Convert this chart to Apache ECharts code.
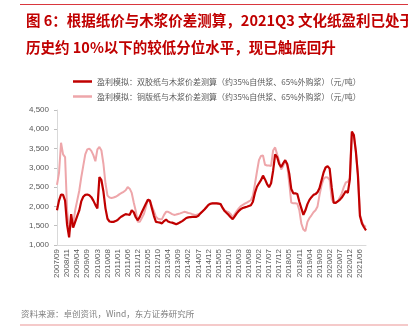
<!DOCTYPE html>
<html>
<head>
<meta charset="utf-8">
<script src="https://cdn.jsdelivr.net/npm/echarts@6/dist/echarts.min.js"></script>
<style>
  html, body { margin: 0; padding: 0; background: #fff; }
  #chart { width: 408px; height: 335px; }
</style>
</head>
<body>
<div id="chart"></div>
<script>
// Tick labels along the time axis (one label every five samples)
var xTicks = ['2007/09','2008/11','2009/04','2009/09','2010/03','2010/08','2011/01','2011/06','2011/12',
  '2012/05','2012/10','2013/04','2013/09','2014/02','2014/07','2014/12','2015/05','2015/10','2016/03',
  '2016/08','2017/02','2017/07','2017/12','2018/05','2018/11','2019/04','2019/09','2020/02','2020/07',
  '2020/12','2021/06'];
var samplesPerTick = 5;

var seriesNames = [
  '盈利模拟：双胶纸与木浆价差测算（约35%自供浆、65%外购浆）（元/吨）',
  '盈利模拟：铜版纸与木浆价差测算（约35%自供浆、65%外购浆）（元/吨）'
];

// Offset paper vs. pulp spread (元/吨)
var offsetSpread = [
  1900,2150,2310,2300,2150,1520,1200,1800,1450,1600,
  1750,1890,2130,2250,2300,2310,2290,2240,2150,2040,
  1950,2760,2680,2380,1950,1680,1610,1600,1600,1620,
  1650,1700,1740,1770,1800,1790,1780,1900,1850,1720,
  1640,1730,1850,1960,2070,2170,2150,1950,1750,1600,
  1590,1580,1560,1620,1660,1610,1590,1580,1560,1540,
  1560,1590,1620,1660,1700,1715,1725,1730,1730,1730,
  1760,1820,1870,1920,1980,2040,2070,2080,2080,2080,
  2075,2060,1960,1880,1830,1780,1720,1670,1740,1820,
  1880,1930,1960,1975,1990,2010,2030,2120,2350,2510,
  2600,2680,2800,2700,2580,2500,2600,2920,3350,3280,
  3100,3020,3120,3200,3100,2850,2450,2340,2340,2320,
  2120,1950,1780,1900,2060,2170,2240,2300,2320,2370,
  2480,2680,2880,3010,3040,2980,2500,2100,2090,2130,
  2170,2230,2310,2400,2350,2700,3940,3850,3420,2800,
  1750,1560,1460,1380
];

// Coated paper vs. pulp spread (元/吨)
var coatedSpread = [
  2560,2870,3650,3350,3280,1900,1350,1500,1550,1900,
  2150,2400,2750,3050,3350,3480,3500,3440,3330,3170,
  3480,3540,3450,3100,2600,2280,2230,2220,2230,2250,
  2280,2320,2350,2380,2420,2500,2460,2350,2100,1880,
  1600,1600,1700,1800,1980,2180,2150,2000,1880,1730,
  1680,1670,1670,1780,1860,1860,1830,1800,1780,1790,
  1805,1820,1840,1860,1850,1830,1820,1800,1785,1780,
  1800,1820,1870,1920,1980,2040,2070,2080,2080,2080,
  2070,2050,1970,1900,1870,1850,1800,1720,1800,1880,
  1950,2010,2040,2070,2100,2130,2160,2280,2580,2900,
  3200,3310,3320,3080,3060,3060,3050,3450,3530,3350,
  3180,2960,3050,3190,3050,2600,2100,2080,2080,2070,
  1900,1550,1400,1360,1600,1700,1770,1850,1900,2000,
  2300,2550,2710,2760,2750,2690,2200,2090,2100,2130,
  2230,2340,2500,2620,2640,2730,3900,3820,3400,2850,
  1800,1600,1500,1470
];

var yMin = 1000, yMax = 4500, yStep = 500;

function toPairs(values) {
  return values.map(function (v, i) { return [i / samplesPerTick, v]; });
}

var lastX = (offsetSpread.length - 1) / samplesPerTick;
var cjk = '"Noto Sans CJK SC", "Liberation Sans", sans-serif';
var latin = '"Liberation Sans", "Noto Sans CJK SC", sans-serif';

var chart = echarts.init(document.getElementById('chart'), null, { renderer: 'canvas' });
chart.setOption({
  animation: false,
  backgroundColor: '#fff',
  title: {
    text: '图 6：根据纸价与木浆价差测算，2021Q3 文化纸盈利已处于\n历史约 10%以下的较低分位水平，现已触底回升',
    left: 21,
    top: 2,
    textStyle: {
      color: '#C00000',
      fontSize: 14.5,
      fontWeight: 'bold',
      fontFamily: cjk,
      lineHeight: 27
    }
  },
  legend: {
    orient: 'vertical',
    left: 68,
    top: 71,
    icon: 'rect',
    itemWidth: 19,
    itemHeight: 2.5,
    itemGap: 4,
    textStyle: { color: '#595959', fontSize: 8, fontFamily: cjk, lineHeight: 11 },
    data: seriesNames
  },
  grid: { left: 57, right: 42, top: 110, bottom: 90 },
  xAxis: {
    type: 'value',
    min: 0,
    max: lastX,
    interval: 1,
    axisLine: { lineStyle: { color: '#D9D9D9', width: 1 } },
    axisTick: { show: false },
    splitLine: { show: false },
    axisLabel: {
      rotate: 90,
      margin: 4,
      color: '#595959',
      fontSize: 8,
      fontFamily: latin,
      showMaxLabel: false,
      formatter: function (v) {
        var k = Math.round(v);
        return Math.abs(v - k) < 1e-6 && xTicks[k] ? xTicks[k] : '';
      }
    }
  },
  yAxis: {
    type: 'value',
    min: yMin,
    max: yMax,
    interval: yStep,
    axisLine: { show: true, lineStyle: { color: '#D9D9D9', width: 1 } },
    axisTick: { show: true, length: 3, lineStyle: { color: '#BFBFBF' } },
    splitLine: { show: false },
    axisLabel: {
      color: '#595959',
      fontSize: 8,
      fontFamily: latin,
      margin: 8,
      formatter: function (v) { return v.toLocaleString('en-US'); }
    }
  },
  series: [
    {
      name: seriesNames[1],
      type: 'line',
      data: toPairs(coatedSpread),
      symbol: 'none',
      z: 2,
      lineStyle: { color: '#EEA6AA', width: 2 },
      itemStyle: { color: '#EEA6AA' }
    },
    {
      name: seriesNames[0],
      type: 'line',
      data: toPairs(offsetSpread),
      symbol: 'none',
      z: 3,
      lineStyle: { color: '#C00000', width: 2.2 },
      itemStyle: { color: '#C00000' }
    }
  ],
  graphic: [
    { type: 'line', shape: { x1: 20, y1: 4.5, x2: 408, y2: 4.5 }, style: { stroke: '#D9373E', lineWidth: 1 } },
    {
      type: 'text', left: 21, top: 310,
      style: { text: '资料来源：卓创资讯，Wind，东方证券研究所', fill: '#7F7F7F', font: '8.5px "Noto Sans CJK SC", sans-serif' }
    },
    { type: 'line', shape: { x1: 20, y1: 325, x2: 408, y2: 325 }, style: { stroke: '#F2B8B8', lineWidth: 1.5 } }
  ]
});
</script>
</body>
</html>
